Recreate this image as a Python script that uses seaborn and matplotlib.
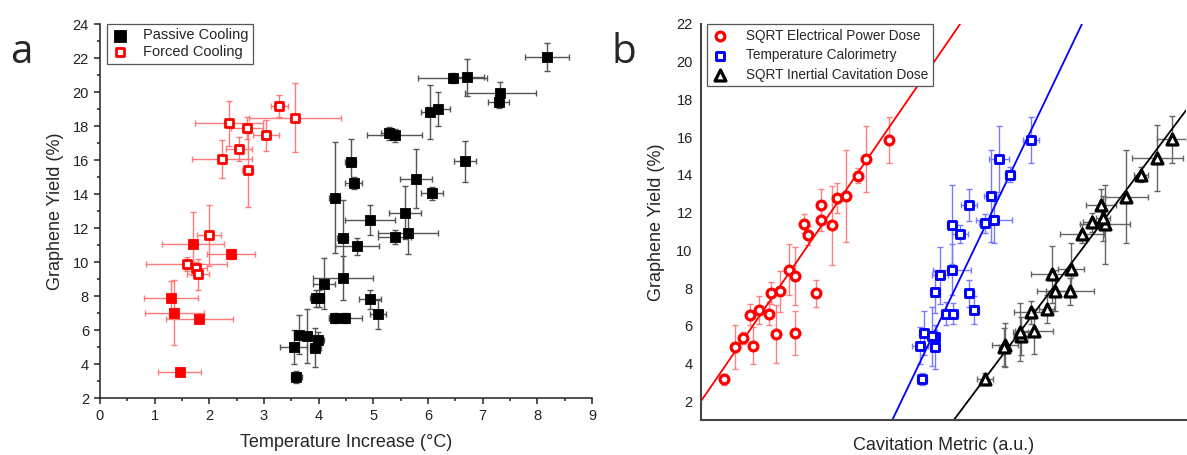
import numpy as np
import pandas as pd
import matplotlib
matplotlib.use("Agg")
import matplotlib.pyplot as plt
from matplotlib.ticker import MultipleLocator
import seaborn as sns

# ---------------- Panel a data ----------------
passive_x = [8.18, 6.72, 6.45, 7.32, 7.29, 6.03, 6.19, 5.29, 5.39, 4.59, 4.64, 6.68, 5.78, 6.08,
             4.29, 4.44, 4.94, 4.70, 4.44, 5.58, 5.63, 5.39, 4.94, 5.08, 4.29, 4.49, 4.09, 3.95,
             4.00, 3.64, 3.78, 3.54, 3.94, 3.99, 3.59]
passive_y = [22.06, 20.88, 20.82, 19.96, 19.43, 18.82, 19.02, 17.57, 17.45, 15.86, 14.66, 15.92,
             14.90, 14.04, 13.78, 11.43, 12.45, 10.92, 9.04, 12.90, 11.70, 11.47, 7.80, 6.92, 6.72,
             6.72, 8.73, 7.86, 7.86, 5.71, 5.65, 5.02, 4.96, 5.39, 3.24]
passive_xerr = [0.40, 0.30, 0.63, 0.65, 0.20, 0.15, 0.21, 0.15, 0.50, 0.10, 0.15, 0.20, 0.30, 0.20,
                0.10, 0.10, 0.45, 0.40, 0.55, 0.30, 0.55, 0.30, 0.20, 0.15, 0.10, 0.30, 0.20, 0.10,
                0.10, 0.10, 0.10, 0.24, 0.10, 0.10, 0.10]
passive_yerr = [0.85, 1.09, 0.30, 0.60, 0.40, 1.59, 1.00, 0.40, 0.40, 1.35, 0.35, 1.22, 1.75, 0.40,
                3.26, 2.20, 0.88, 0.50, 1.30, 1.55, 1.20, 0.40, 0.55, 0.84, 0.30, 0.30, 1.50, 0.50,
                0.50, 1.15, 1.57, 1.00, 1.16, 0.50, 0.35]

forced_x = [3.28, 3.56, 2.36, 2.69, 3.04, 2.54, 2.23, 2.70, 2.00, 1.59, 1.76, 1.79]
forced_y = [19.18, 18.49, 18.16, 17.90, 17.45, 16.66, 16.06, 15.41, 11.56, 9.90, 9.62, 9.27]
forced_xerr = [0.15, 0.84, 0.62, 0.30, 0.24, 0.24, 0.55, 0.10, 0.22, 0.74, 0.20, 0.20]
forced_yerr = [0.67, 2.04, 1.34, 0.64, 0.90, 0.70, 1.10, 2.20, 1.80, 0.40, 0.40, 0.90]

forced_filled_x = [1.70, 2.39, 1.30, 1.36, 1.82, 1.46]
forced_filled_y = [11.08, 10.45, 7.86, 7.02, 6.66, 3.53]
forced_filled_xerr = [0.57, 0.44, 0.50, 0.54, 0.61, 0.39]
forced_filled_yerr = [1.86, 0.30, 1.00, 1.93, 0.25, 0.15]

# ---------------- Panel b data ----------------
elec_x = [38.74, 34.09, 32.45, 29.98, 28.13, 24.69, 24.69, 21.26, 27.02, 22.08, 18.17, 19.34,
          23.66, 16.26, 14.40, 12.00, 13.99, 10.08, 15.43, 19.34, 8.58, 7.00, 10.76, 4.73]
elec_y = [15.84, 14.82, 13.96, 12.88, 12.76, 12.40, 11.61, 11.40, 11.33, 10.80, 8.97, 8.65,
          7.73, 7.82, 7.73, 6.85, 6.64, 6.59, 5.56, 5.61, 5.35, 4.87, 4.95, 3.15]
elec_yerr = [1.23, 1.75, 0.40, 2.45, 0.80, 0.85, 0.60, 0.50, 2.10, 0.50, 1.36, 1.55,
             0.72, 1.10, 0.60, 0.75, 0.60, 0.55, 1.56, 1.16, 0.30, 1.19, 0.99, 0.30]

temp_x = [68.05, 61.52, 63.72, 59.81, 55.35, 51.71, 58.58, 60.49, 53.40, 49.18, 51.71, 48.15,
          55.35, 50.56, 52.06, 56.38, 48.15, 48.15, 45.53, 45.06, 45.95, 47.59]
temp_y = [15.84, 14.82, 14.00, 12.88, 12.40, 11.35, 11.43, 11.61, 10.86, 8.67, 8.97, 7.78,
          7.73, 6.64, 6.64, 6.85, 5.39, 4.87, 3.18, 4.95, 5.61, 5.44]
temp_xerr = [1.65, 2.06, 1.00, 1.50, 1.65, 1.00, 1.20, 3.70, 1.65, 1.65, 3.90, 1.00,
             1.00, 1.00, 1.00, 1.00, 1.00, 1.00, 1.00, 1.65, 1.00, 1.00]
temp_yerr = [1.23, 1.75, 0.40, 2.45, 0.85, 2.10, 0.50, 1.20, 0.50, 1.50, 1.36, 1.10,
             0.72, 0.60, 0.55, 0.75, 0.40, 1.19, 0.30, 0.99, 1.16, 1.56]

inert_x = [58.64, 62.76, 62.41, 65.99, 65.84, 68.72, 68.05, 71.26, 73.05, 76.07, 72.37, 76.28,
           78.54, 80.72, 83.33, 82.92, 82.45, 87.72, 90.68, 94.10, 97.18]
inert_y = [3.18, 4.96, 4.87, 5.44, 5.67, 5.70, 6.71, 6.90, 7.86, 7.82, 8.73, 9.02,
           10.87, 11.49, 11.38, 11.70, 12.40, 12.85, 14.00, 14.87, 15.88]
inert_xerr = [1.65, 2.70, 1.00, 1.50, 1.50, 3.90, 3.50, 1.50, 3.70, 5.00, 4.30, 2.70,
              4.50, 2.00, 5.10, 1.50, 3.10, 4.50, 1.50, 5.30, 3.10]
inert_yerr = [0.30, 1.17, 1.00, 1.00, 1.56, 1.20, 0.60, 0.75, 1.10, 0.72, 1.50, 1.36,
              0.50, 0.50, 2.10, 1.20, 0.85, 2.45, 0.40, 1.75, 1.23]

# linear fits (intercept, slope) for red, blue, black
fit_intercepts = [2.0, -20.18, -16.88]
fit_slopes = [0.3744, 0.537, 0.343]

# ---------------- style ----------------
sns.set_style("ticks")
plt.rcParams['font.family'] = ['Liberation Sans', 'DejaVu Sans']
plt.rcParams['axes.linewidth'] = 1.1

fig = plt.figure(figsize=(11.87, 4.55), dpi=100)
axA = fig.add_axes([100/1187, 57/455, 492/1187, 374/455])
axB = fig.add_axes([701/1187, 35/455, 485/1187, 396/455])

# ---------------- Panel a ----------------
def errs(ax, x, y, xe, ye, color):
    ax.errorbar(x, y, xerr=xe, yerr=ye, fmt='none', ecolor=color, elinewidth=1.0,
                capsize=2.3, capthick=1.0, zorder=2)

errs(axA, passive_x, passive_y, passive_xerr, passive_yerr, '#555555')
errs(axA, forced_x, forced_y, forced_xerr, forced_yerr, '#ff7a7a')
errs(axA, forced_filled_x, forced_filled_y, forced_filled_xerr, forced_filled_yerr, '#ff7a7a')

dfp = pd.DataFrame({'x': passive_x, 'y': passive_y})
dff = pd.DataFrame({'x': forced_x, 'y': forced_y})
dfff = pd.DataFrame({'x': forced_filled_x, 'y': forced_filled_y})
sns.scatterplot(data=dfp, x='x', y='y', ax=axA, marker='s', s=54, color='black',
                edgecolor='black', linewidth=0.6, label='Passive Cooling', zorder=3)
sns.scatterplot(data=dff, x='x', y='y', ax=axA, marker='s', s=28, facecolor='white',
                edgecolor='#ff0000', linewidth=2.0, label='Forced Cooling', zorder=3)
sns.scatterplot(data=dfff, x='x', y='y', ax=axA, marker='s', s=54, color='#ff0000',
                edgecolor='#ff0000', linewidth=0.6, zorder=3, legend=False)

axA.set_xlim(0, 9)
axA.set_ylim(2, 24)
axA.xaxis.set_major_locator(MultipleLocator(1))
axA.xaxis.set_minor_locator(MultipleLocator(0.5))
axA.yaxis.set_major_locator(MultipleLocator(2))
axA.yaxis.set_minor_locator(MultipleLocator(1))
axA.tick_params(which='major', direction='out', length=4.5, width=1.1, labelsize=10.5, colors='#222222')
axA.tick_params(which='minor', direction='out', length=2.5, width=1.1, colors='#222222')
for s in ['top', 'right']:
    axA.spines[s].set_visible(False)
for s in ['left', 'bottom']:
    axA.spines[s].set_color('#222222')
axA.set_xlabel('Temperature Increase (°C)', fontsize=13, labelpad=8)
axA.set_ylabel('Graphene Yield (%)', fontsize=13, labelpad=6)
legA = axA.legend(loc='upper left', bbox_to_anchor=(0.014, 1.0), borderaxespad=0, fontsize=10.5,
                  frameon=True, fancybox=False, edgecolor='#555555', framealpha=1,
                  handletextpad=1.0, handlelength=1.2, labelspacing=0.2, borderpad=0.3,
                  scatterpoints=1, markerscale=1.15)
legA.get_frame().set_linewidth(0.9)

# ---------------- Panel b ----------------
errs(axB, elec_x, elec_y, None, elec_yerr, '#ff8080')
errs(axB, temp_x, temp_y, temp_xerr, temp_yerr, '#7a7aff')
errs(axB, inert_x, inert_y, inert_xerr, inert_yerr, '#666666')

fit_colors = ['#ff0000', '#0000ff', '#000000']
for b, m, c in zip(fit_intercepts, fit_slopes, fit_colors):
    axB.axline((0, b), slope=m, color=c, lw=1.3, zorder=2.5)

dfe = pd.DataFrame({'x': elec_x, 'y': elec_y})
dft = pd.DataFrame({'x': temp_x, 'y': temp_y})
dfi = pd.DataFrame({'x': inert_x, 'y': inert_y})
sns.scatterplot(data=dfe, x='x', y='y', ax=axB, marker='o', s=40, facecolor='white',
                edgecolor='#ff0000', linewidth=2.3, label='SQRT Electrical Power Dose', zorder=3)
sns.scatterplot(data=dft, x='x', y='y', ax=axB, marker='s', s=30, facecolor='white',
                edgecolor='#0000ff', linewidth=2.1, label='Temperature Calorimetry', zorder=3)
sns.scatterplot(data=dfi, x='x', y='y', ax=axB, marker='^', s=62, facecolor='white',
                edgecolor='#000000', linewidth=2.3, label='SQRT Inertial Cavitation Dose', zorder=3)

axB.set_xlim(0, 100)
axB.set_ylim(1.0, 22)
axB.set_yticks(np.arange(2, 23, 2))
axB.set_xticks([])
axB.tick_params(axis='y', length=0, labelsize=10.5, pad=6, colors='#222222')
for s in ['top', 'right']:
    axB.spines[s].set_visible(False)
for s in ['left', 'bottom']:
    axB.spines[s].set_color('#444444')
    axB.spines[s].set_linewidth(1.5)
axB.set_xlabel('Cavitation Metric (a.u.)', fontsize=13, labelpad=12)
axB.set_ylabel('Graphene Yield (%)', fontsize=13, labelpad=8)
legB = axB.legend(loc='upper left', bbox_to_anchor=(0.012, 1.0), borderaxespad=0, fontsize=9.8,
                  frameon=True, fancybox=False, edgecolor='#555555', framealpha=1,
                  handletextpad=1.3, handlelength=1.2, labelspacing=0.4, borderpad=0.35,
                  scatterpoints=1)
legB.get_frame().set_linewidth(0.9)

# panel letters
fig.text(10/1187, 1 - 63/455, 'a', fontsize=29, family=['Open Sans', 'DejaVu Sans'], va='baseline', ha='left')
fig.text(612/1187, 1 - 63/455, 'b', fontsize=29, family=['Open Sans', 'DejaVu Sans'], va='baseline', ha='left')

fig.savefig('out.png', dpi=100, facecolor='white')
